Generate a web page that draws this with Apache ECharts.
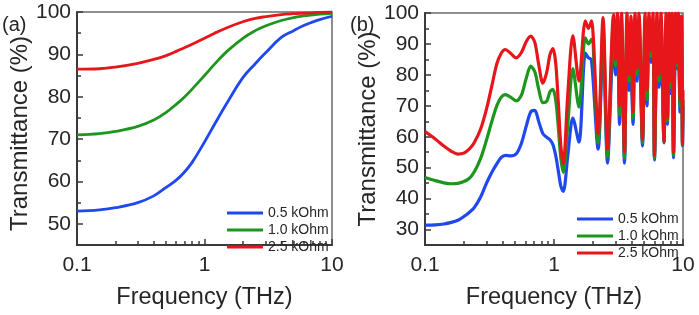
<!DOCTYPE html>
<html><head><meta charset="utf-8">
<script src="https://cdn.jsdelivr.net/npm/echarts@6/dist/echarts.min.js"></script>
<style>html,body{margin:0;padding:0;background:#fff}#c{width:699px;height:315px}</style>
</head><body><div id="c"></div>
<script>
const seriesNames = ['0.5 kOhm', '1.0 kOhm', '2.5 kOhm'];
const xTickValues = [0.1, 1, 10];
const xMinorTicks = [0.2, 0.3, 0.4, 0.5, 0.6, 0.7, 0.8, 0.9, 2, 3, 4, 5, 6, 7, 8, 9];
const yLabelsA = [50, 60, 70, 80, 90, 100];
const yLabelsB = [30, 40, 50, 60, 70, 80, 90, 100];

// panel (a)
const freqA = [0.1, 0.15, 0.2, 0.3, 0.4, 0.5, 0.6, 0.7, 0.8, 1, 1.2, 1.5, 2, 2.5, 3, 4, 5, 6, 7, 8, 10];
const a05 = [53.0, 53.3, 53.8, 55.0, 56.6, 58.6, 60.3, 62.3, 64.5, 69.3, 73.5, 78.5, 84.5, 87.8, 90.3, 94.0, 95.6, 96.8, 97.6, 98.2, 99.0];
const a10 = [71.0, 71.3, 71.8, 73.0, 74.5, 76.3, 78.2, 80.0, 81.8, 85.0, 87.7, 90.7, 93.8, 95.6, 96.7, 98.0, 98.7, 99.1, 99.3, 99.5, 99.7];
const a25 = [86.5, 86.6, 87.0, 87.9, 88.8, 89.7, 90.7, 91.6, 92.4, 93.8, 95.0, 96.3, 97.7, 98.5, 98.9, 99.4, 99.6, 99.7, 99.8, 99.9, 100];

// panel (b)
const freqB = [0.1, 0.12, 0.14, 0.16, 0.18, 0.2, 0.22, 0.24, 0.27, 0.3, 0.33, 0.36, 0.39, 0.42, 0.46, 0.51, 0.56, 0.61, 0.66, 0.71, 0.76, 0.82, 0.88, 0.93, 0.98, 1.03, 1.08, 1.13, 1.18,
  1.28, 1.40, 1.56, 1.75, 1.85, 1.95, 2.2, 2.4, 2.6,
  2.892, 2.997, 3.106, 3.219, 3.336, 3.52, 3.681, 3.815, 3.954, 4.097, 4.246, 4.401, 4.56, 4.853, 5.075, 5.26, 5.451, 5.649, 5.854, 6.013, 6.288, 6.516, 6.752, 7.122, 7.381, 7.581, 7.787, 8.0, 8.215, 8.441, 8.748, 8.985, 9.229, 9.479, 9.736, 9.911, 10];
const b05 = [31.4, 31.5, 31.8, 32.3, 33.0, 34.2, 35.5, 37.0, 40.5, 45.0, 48.5, 51.2, 53.3, 54.0, 53.8, 54.5, 58.0, 63.5, 68.0, 68.5, 65.0, 61.0, 59.8, 59.0, 57.5, 54.0, 49.0, 44.0, 42.3,
  54, 66, 58.3, 87, 85.5, 85, 56, 90, 51.5,
  90, 80, 94, 64, 95, 51.5, 93, 75, 77.5, 64, 95, 78, 95, 57, 92, 70, 95, 84, 93, 52.5, 82.5, 76, 95, 58, 92, 64, 93, 74, 90, 53.2, 93, 82, 85.4, 68, 90, 57, 70];
const b10 = [46.8, 45.8, 45.1, 44.8, 44.9, 45.5, 46.5, 48.5, 53.0, 59.0, 65.0, 70.0, 72.8, 73.6, 72.8, 71.6, 73.5, 79.0, 82.8, 81.0, 75.5, 71.0, 71.5, 74.5, 75.3, 72.0, 63.0, 53.0, 48.5,
  64, 82, 69.6, 92, 90, 91.5, 58, 95, 53.5,
  97, 83, 98, 67, 98, 53, 97, 78, 90, 66, 98, 80, 98, 58, 97, 72, 98, 86, 97, 53, 92, 78, 98, 58.3, 97, 65, 97, 76, 96, 54, 97, 83, 93, 70, 95, 57.3, 72];
const b25 = [61.7, 59.3, 57.0, 55.3, 54.4, 54.7, 56.0, 58.0, 62.5, 69.0, 76.5, 83.5, 87.0, 88.2, 87.0, 85.5, 87.3, 90.8, 92.5, 90.5, 83.5, 77.3, 81.0, 86.5, 88.5, 84.0, 71.0, 57.0, 51.3,
  74, 92.7, 78, 97.5, 95, 97.5, 61, 98.5, 56,
  99.5, 85, 100, 70, 100, 55, 100, 80, 99, 68, 100, 82, 100, 59, 100, 75, 100, 88, 100, 54, 100, 80, 100, 58.5, 100, 66, 100, 78, 100, 55, 100, 84, 100, 72, 99, 57.5, 75];

const colors = ['#1f48f0', '#1e961e', '#e6161a'];
const FONT = 'Liberation Sans, Arial, sans-serif';
const TXT = '#262626';
const AX = '#3a3a3a';

function pair(fs, vs) { return fs.map((f, i) => [f, vs[i]]); }

function xAxes(grid, name) {
  return [{
    gridIndex: grid, type: 'log', logBase: 10, min: 0.1, max: 10, position: 'bottom',
    axisLine: { show: true, lineStyle: { color: AX, width: 2 } },
    axisTick: { show: true, inside: true, length: 6, lineStyle: { color: AX, width: 1.5 } },
    axisLabel: { fontSize: 21, color: TXT, fontFamily: FONT, margin: 10,
      formatter: v => { let best = xTickValues[0]; xTickValues.forEach(t => { if (Math.abs(Math.log10(t) - Math.log10(v)) < Math.abs(Math.log10(best) - Math.log10(v))) best = t; }); return String(best); } },
    splitLine: { show: false },
    name: name, nameLocation: 'middle', nameGap: 41,
    nameTextStyle: { fontSize: 23.5, color: TXT, fontFamily: FONT }
  }, {
    gridIndex: grid, type: 'log', logBase: 10, min: 0.1, max: 10, position: 'bottom',
    axisLine: { show: false },
    axisTick: { show: true, inside: true, length: 4, lineStyle: { color: AX, width: 1.5 }, customValues: xMinorTicks },
    axisLabel: { show: false }, splitLine: { show: false }
  }];
}

function yAxes(grid, min, labels, gap, pad) {
  return [{
    gridIndex: grid, type: 'value', min: min, max: 100, interval: 5,
    axisLine: { show: true, lineStyle: { color: AX, width: 2 } },
    axisTick: { show: true, inside: true, length: 4, lineStyle: { color: AX, width: 1.5 } },
    axisLabel: { fontSize: 21, color: TXT, fontFamily: FONT, margin: 6,
      formatter: v => labels.includes(v) ? String(v) : '' },
    splitLine: { show: false },
    name: 'Transmittance (%)', nameLocation: 'middle', nameGap: gap,
    nameTextStyle: { fontSize: 24, color: TXT, fontFamily: FONT, padding: pad }
  }, {
    gridIndex: grid, type: 'value', min: min, max: 100, position: 'left',
    axisLine: { show: false },
    axisTick: { show: true, inside: true, length: 6, lineStyle: { color: AX, width: 1.5 }, customValues: labels },
    axisLabel: { show: false }, splitLine: { show: false }
  }];
}

const seriesA = [a05, a10, a25];
const seriesB = [b05, b10, b25];
const series = [];
seriesA.forEach((vals, i) => series.push({
  name: seriesNames[i], type: 'line', xAxisIndex: 0, yAxisIndex: 0, data: pair(freqA, vals),
  showSymbol: false, symbol: 'none', smooth: 0.4, lineStyle: { width: 2.8, color: colors[i] }, itemStyle: { color: colors[i] }
}));
seriesB.forEach((vals, i) => series.push({
  name: seriesNames[i], type: 'line', xAxisIndex: 2, yAxisIndex: 2, data: pair(freqB, vals),
  showSymbol: false, symbol: 'none', smooth: 0.3, lineStyle: { width: 3.2, color: colors[i] }, itemStyle: { color: colors[i] }
}));

const legendCommon = {
  data: seriesNames, orient: 'vertical', itemWidth: 36, itemHeight: 3, itemGap: 3,
  icon: 'path://M0,0L36,0L36,3L0,3Z',
  itemStyle: { borderWidth: 0 },
  padding: 0, selectedMode: false, z: 10,
  textStyle: { fontSize: 14, color: TXT, fontFamily: FONT }
};

const chart = echarts.init(document.getElementById('c'), null, { renderer: 'canvas' });
chart.setOption({
  animation: false,
  backgroundColor: '#fff',
  grid: [
    { left: 77, top: 12, width: 255, height: 250, show: true, borderColor: '#6a6a6a', borderWidth: 1.5 },
    { left: 425, top: 13, width: 258, height: 252, show: true, borderColor: '#6a6a6a', borderWidth: 1.5 }
  ],
  xAxis: [...xAxes(0, 'Frequency (THz)'), ...xAxes(1, 'Frequency (THz)')],
  yAxis: [...yAxes(0, 45, yLabelsA, 45, [0, 10, 0, 0]), ...yAxes(1, 25, yLabelsB, 39, [0, 0, 0, 0])],
  legend: [
    Object.assign({}, legendCommon, { left: 227, top: 206 }),
    Object.assign({}, legendCommon, { left: 577, top: 212 })
  ],
  graphic: [
    { type: 'text', left: 2, top: 15, style: { text: '(a)', fontSize: 20, fill: TXT, fontFamily: FONT } },
    { type: 'text', left: 350, top: 15, style: { text: '(b)', fontSize: 20, fill: TXT, fontFamily: FONT } }
  ],
  series: series
});
</script>
</body></html>
